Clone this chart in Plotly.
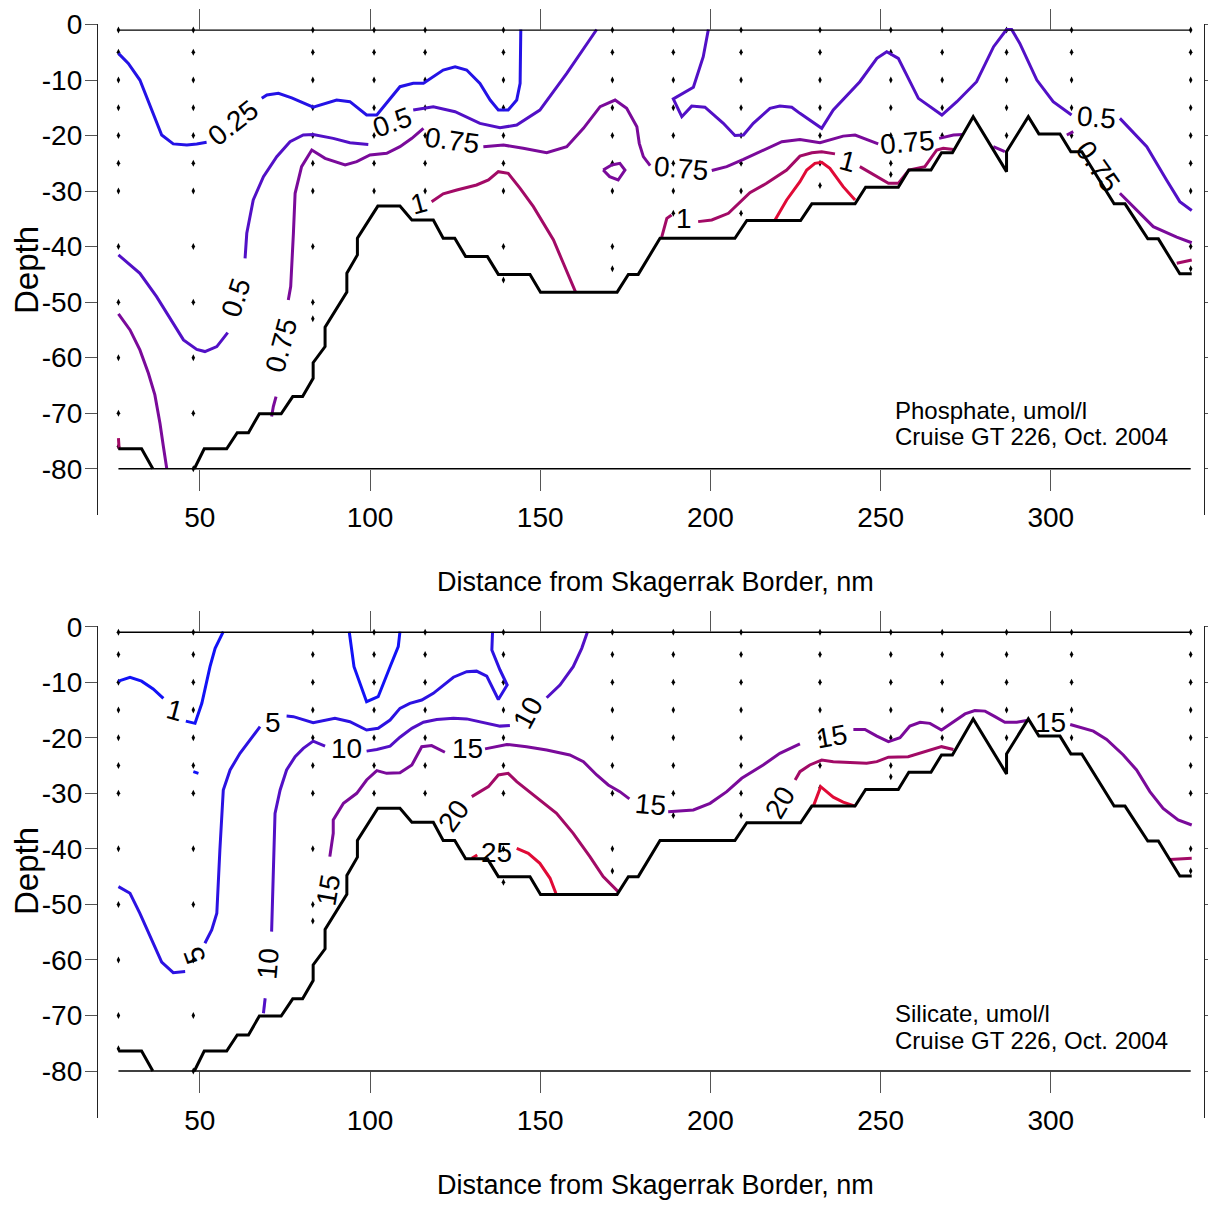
import plotly.graph_objects as go

W, H = 1216, 1207

# ---------------- data ----------------
station_dist = [26.1, 48.1, 83.2, 101.2, 116.2, 139.2, 171.2, 189.1, 209.0, 232.2, 253.0, 268.1, 287.0, 306.1, 341.1]
station_samples = [
    [1, 5, 10, 15, 20, 25, 30, 40, 50, 60, 70, 76],
    [1, 5, 10, 15, 20, 25, 30, 40, 50, 60, 70, 80],
    [1, 5, 10, 15, 20, 25, 30, 40, 50, 53],
    [1, 5, 10, 15, 20, 25, 30],
    [1, 5, 10, 15, 20, 25, 30],
    [1, 5, 10, 15, 20, 25, 30, 40, 46],
    [1, 5, 10, 15, 20, 25, 30, 40, 44],
    [1, 5, 10, 15, 20, 25, 30, 34],
    [1, 5, 10, 15, 20, 25, 30, 34],
    [1, 5, 10, 15, 20, 25, 29],
    [1, 5, 10, 15, 20, 25, 27],
    [1, 5, 10, 15, 20],
    [1, 5, 10, 15, 20],
    [1, 5, 10, 15, 20],
    [1, 5, 10, 15, 20, 25, 30, 40, 44],
]
grid_top_depth = -1
grid_bottom_depth = -80

bottom_dist = [26.1, 32.9, 36.2, None, 48.4, 51.3, 57.9, 61.0, 64.3, 67.5, 73.9, 77.3, 80.2, 83.3, 83.3,
               86.8, 86.8, 93.2, 93.2, 96.3, 96.3, 102.3, 108.8, 112.3, 118.6, 121.5, 124.9, 128.1, 134.5,
               137.7, 147.0, 150.1, 172.6, 175.9, 178.8, 185.2, 207.2, 210.7, 226.5, 229.8, 242.5, 245.6,
               255.2, 258.3, 264.8, 267.9, 271.1, 277.2, 287.0, 287.0, 293.4, 296.5, 302.7, 305.9, 309.1,
               318.6, 321.8, 328.5, 331.6, 337.9, 341.4]
bottom_depth = [-76.4, -76.4, -80.0, None, -80.0, -76.4, -76.4, -73.5, -73.5, -70.1, -70.1, -67.0, -67.0, -63.7, -60.9,
                -58.0, -54.5, -48.2, -44.8, -41.5, -38.5, -32.7, -32.7, -35.2, -35.2, -38.5, -38.5, -41.8, -41.8,
                -45.0, -45.0, -48.2, -48.2, -45.0, -45.0, -38.5, -38.5, -35.3, -35.3, -32.3, -32.3, -29.3,
                -29.3, -26.2, -26.2, -23.1, -23.1, -16.6, -26.5, -22.9, -16.6, -19.7, -19.7, -22.9, -22.9,
                -32.3, -32.3, -38.6, -38.6, -44.9, -44.9]

# Phosphate isolines (umol/l)
p025_x = [26.1, 29.0, 32.4, 35.9, 38.8, 42.2, 46.2, 49.1, 52.0, None, 68.2, 69.7, 73.1, 77.0, 83.3, 86.8, 90.2, 94.1,
          99.0, 102.0, 108.8, 112.7, 115.7, 121.5, 125.0, 128.4, 132.3, 135.3, 137.7, 140.6, 143.1, 144.1, 144.3]
p025_y = [-5.2, -7.0, -10.0, -15.4, -19.9, -21.5, -21.7, -21.5, -21.2, None, -13.3, -12.7, -12.4, -13.2, -14.9, -14.2,
          -13.6, -13.9, -16.3, -16.3, -11.2, -10.6, -10.6, -8.2, -7.6, -8.2, -10.6, -13.6, -15.4, -15.4, -13.6, -10.6, -0.9]

p05_x = [26.1, 32.4, 37.3, 41.2, 45.2, 49.1, 51.5, 55.0, 58.2, None, 63.3, 63.8, 65.7, 68.7, 72.6, 76.5, 80.4, 83.3,
         89.2, 94.1, 99.5, None, 112.7, 118.6, 125.0, 132.3, 138.2, 143.1, 149.9, 157.8, 166.6, None,
         199.4, 197.9, 195.0, 189.1, 191.6, 194.5, 198.4, 203.8, 207.2, 209.7, 212.6, 217.5, 220.4, 223.9, 226.3,
         232.7, 236.1, 243.9, 248.9, 251.8, 255.2, 261.1, 268.0, 272.4, 278.2, 283.2, 287.0, 288.5, 290.9, 295.9,
         300.7, 306.1, None, 320.3, 328.2, 334.0, 337.9, 341.4]
p05_y = [-41.5, -44.8, -49.0, -52.9, -56.8, -58.5, -58.9, -58.0, -55.5, None, -42.1, -37.6, -31.6, -27.4, -23.8, -21.1,
         -19.9, -19.8, -20.5, -21.3, -21.6, None, -15.4, -14.8, -15.7, -17.8, -18.6, -18.1, -15.4, -8.8, -0.9, None,
         -0.9, -5.8, -11.3, -13.4, -16.6, -14.7, -14.9, -17.8, -20.0, -19.9, -17.8, -15.1, -14.7, -14.9, -16.0,
         -18.7, -15.4, -10.3, -6.1, -4.9, -6.1, -13.3, -16.3, -13.9, -10.3, -4.0, -0.9, -0.9, -3.4, -10.0,
         -13.9, -16.3, None, -16.9, -22.0, -28.0, -31.9, -33.5]

p075_x = [26.1, 29.5, 32.4, 34.9, 36.8, 38.3, 39.3, 40.3, None, 71.1, 71.6, 72.4, None, 76.0, 76.7, 77.5, 78.0, 79.9,
          82.9, 86.8, 92.7, 96.1, 100.0, 104.9, 108.8, 112.3, 115.7, None, 133.3, 139.2, 145.0, 151.9, 157.8, 162.7,
          167.6, 172.0, 175.4, 178.4, 179.1, 180.3, 182.3, None, 200.4, 204.8, 209.7, 215.5, 221.0, 226.3, 232.2,
          239.0, 242.5, 249.3, None, 267.2, 271.4, 274.3, None, 283.1, 286.5, None, 304.7, 306.6, None,
          320.3, 324.2, 330.1, 337.0, 341.4, None, 168.5, 171.0, 173.4, 174.9, 172.9, 170.4, 168.5]
p075_y = [-52.1, -55.0, -58.6, -62.8, -66.7, -71.8, -76.0, -80.0, None, -70.6, -68.8, -67.0, None, -49.6, -47.2, -37.6,
          -30.4, -25.6, -22.6, -24.1, -25.3, -24.7, -23.5, -23.2, -22.0, -20.5, -18.7, None, -22.0, -21.7, -22.3,
          -23.1, -22.0, -18.7, -14.8, -13.6, -15.1, -18.4, -21.4, -23.8, -25.4, None, -26.3, -25.6, -24.3, -22.6,
          -21.1, -20.7, -21.3, -20.1, -19.9, -21.5, None, -20.5, -19.9, -19.8, None, -22.0, -22.9, None, -19.9,
          -19.3, None, -30.4, -32.8, -36.4, -38.3, -39.3, None, -26.2, -25.3, -25.0, -26.2, -28.0, -27.4, -26.2]

p1_x = [26.1, 26.3, None, 118.1, 121.5, 125.5, 131.3, 134.8, 137.7, 140.6, 144.1, 148.0, 150.9, 153.9, 156.8, 160.4,
        None, 185.7, 187.2, 188.6, None, 196.4, 200.4, 205.3, 211.6, 216.5, 222.4, 226.3, 229.8, 232.7, 236.6, None,
        243.9, 248.9, 252.3, 255.2, 258.3, 263.0, 266.5, 268.4, 271.4, None, 337.0, 341.4]
p1_y = [-74.5, -76.4, None, -31.9, -30.5, -29.8, -28.9, -28.0, -26.5, -26.8, -29.5, -32.8, -35.8, -38.8, -43.0, -48.2,
        None, -38.3, -34.9, -34.3, None, -35.5, -35.2, -34.0, -30.3, -28.6, -26.2, -23.7, -23.1, -22.9, -23.3, None,
        -25.6, -27.4, -28.6, -28.6, -26.2, -25.6, -22.6, -22.3, -22.5, None, -43.0, -42.4]

p125_x = [218.9, 222.4, 226.3, 228.3, 230.7, 232.7, 235.1, 239.0, 242.5]
p125_y = [-35.3, -31.6, -28.3, -26.2, -25.0, -24.8, -25.9, -29.2, -31.6]

# Silicate isolines (umol/l)
s1_x = [26.1, 29.5, 32.9, 36.3, 39.3, None, 45.9, 48.6, 50.6, 53.0, 54.5, 56.9, None, 48.1, 49.6, None,
        93.9, 95.3, 99.0, 102.4, 105.9, 108.3, 108.8]
s1_y = [-9.8, -9.1, -9.8, -11.2, -12.9, None, -17.0, -17.4, -13.8, -7.2, -3.9, -0.9, None, -26.1, -26.4, None,
        -0.9, -7.2, -13.5, -12.6, -7.2, -3.6, -0.9]

s5_x = [26.1, 29.5, 32.4, 35.9, 38.8, 42.2, 45.7, None, 51.5, 53.5, 55.0, 55.4, 55.9, 56.9, 58.9, 61.8, 67.7, None,
        75.5, 77.5, 83.3, 89.7, 94.1, 99.0, 102.4, 105.9, 108.8, 111.7, 115.2, 118.6, 124.5, 128.4, 131.3, 134.3,
        137.7, 140.3, 138.2, 135.8, 136.0]
s5_y = [-46.8, -48.0, -51.6, -56.4, -60.4, -62.3, -62.1, None, -57.0, -54.6, -51.6, -46.2, -40.2, -29.4, -25.8, -22.8,
        -18.0, None, -16.1, -16.2, -17.3, -16.5, -17.1, -18.6, -18.3, -16.8, -14.7, -13.8, -13.2, -12.0, -9.1, -8.1,
        -8.0, -8.9, -13.1, -10.5, -7.8, -4.2, -0.9]

s10_x = [68.7, 69.2, None, 71.1, 71.4, 71.8, 72.1, 73.6, 75.5, 78.0, 80.4, 83.3, 86.8, None, 99.0, 102.0, 105.9,
         108.8, 112.3, 115.7, 119.6, 124.5, 128.4, 133.3, 138.2, 141.1, None, 151.9, 155.8, 159.7, 162.2, 163.9]
s10_y = [-69.6, -66.9, None, -54.9, -49.2, -40.2, -33.6, -29.4, -25.8, -23.4, -21.9, -20.6, -21.5, None, -22.4, -22.1,
         -21.5, -19.9, -18.3, -17.2, -16.7, -16.5, -16.6, -17.2, -17.9, -17.8, None, -12.8, -10.5, -7.2, -3.9, -0.9]

s15_x = [88.2, 89.2, 89.2, 92.2, 96.1, 99.0, 102.0, 104.9, 108.8, 112.3, 115.2, 118.1, 122.0, None, 133.8, 140.2,
         146.0, 151.9, 158.7, 162.7, 166.6, 170.0, 173.4, 176.2, None, 187.6, 195.0, 199.9, 204.8, 209.2, 215.5,
         220.4, 226.3, None, 242.0, 245.4, 248.9, 252.3, 255.7, 258.6, 261.6, 264.5, 267.9, 271.4, 274.8, 277.7,
         280.7, 283.6, 286.5, 290.0, 292.9, None, 305.7, 312.5, 316.4, 321.3, 325.2, 329.1, 333.0, 337.4, 341.4]
s15_y = [-41.4, -37.2, -34.8, -31.8, -30.0, -27.6, -25.9, -26.4, -26.3, -24.9, -21.6, -21.4, -22.6, None, -22.0, -21.2,
         -21.6, -22.2, -23.1, -24.3, -26.7, -28.5, -29.7, -31.0, None, -33.3, -33.0, -31.8, -29.7, -27.3, -24.9,
         -22.8, -21.1, None, -18.5, -18.5, -19.7, -20.7, -20.0, -17.9, -17.2, -17.4, -18.6, -17.1, -15.7, -15.1,
         -15.2, -16.2, -17.2, -17.2, -16.9, None, -17.6, -18.8, -20.3, -23.1, -25.8, -29.7, -32.7, -34.8, -35.7]

s20_x = [129.9, 134.8, 137.7, 140.6, 143.1, 149.9, 154.8, 159.7, 164.6, 168.5, 172.9, None, 224.9, 226.3, 229.2,
         232.7, 236.1, 245.9, 248.9, 252.3, 258.1, 261.6, 265.0, 267.9, 271.4, None, 335.0, 341.4]
s20_y = [-30.6, -28.8, -26.7, -26.4, -27.9, -31.2, -33.6, -37.2, -41.4, -45.0, -47.7, None, -27.6, -26.1, -24.9,
         -24.0, -24.3, -24.6, -24.3, -23.5, -23.4, -22.8, -22.1, -21.6, -22.1, None, -41.9, -41.7]

s25_x = [129.9, 131.5, None, 143.1, 146.5, 149.9, 152.9, 154.6, None, 230.2, 232.4, 236.1, 239.0, 242.5]
s25_y = [-41.7, -41.1, None, -39.9, -40.8, -42.6, -45.3, -48.0, None, -32.4, -28.8, -30.7, -31.6, -32.3]

# contour labels: (text, distance, depth, angle)
phos_labels = [("0.25", 60.0, -17.7, -38), ("0.5", 60.6, -49.1, -72), ("0.5", 106.5, -17.7, -20),
               ("0.75", 74.1, -57.7, -75), ("0.75", 124.1, -20.8, 8), ("0.75", 191.4, -26.0, 5),
               ("0.75", 257.8, -21.2, -5), ("0.5", 313.3, -16.7, 5), ("0.75", 313.9, -25.5, 55),
               ("1", 114.4, -32.3, -15), ("1", 192.3, -35.0, 0), ("1", 240.4, -24.6, 15)]
sil_labels = [("1", 42.7, -15.0, 15), ("5", 71.5, -17.2, 0), ("5", 48.6, -59.1, -110), ("10", 93.2, -21.9, 0),
              ("10", 146.4, -15.4, -62), ("10", 70.0, -60.6, -85), ("15", 128.5, -22.0, 0), ("15", 182.3, -32.0, 5),
              ("15", 235.7, -19.7, -10), ("15", 299.8, -17.2, 0), ("15", 87.9, -47.4, -80),
              ("20", 124.4, -34.1, -55), ("20", 220.4, -31.6, -60), ("25", 137.3, -40.6, 0)]

x_ticks = [50, 100, 150, 200, 250, 300]
y_ticks = [0, -10, -20, -30, -40, -50, -60, -70, -80]
y_ticktext = ["0", "-10", "-20", "-30", "-40", "-50", "-60", "-70", "-80"]

# ---------------- styling / layout ----------------
FONT = "Liberation Sans, Arial, Helvetica, sans-serif"
OFF = 8  # page body margin in the browser
X0, XS = 29.6, 3.404
XRANGE = [(98 - X0) / XS, (1204 - X0) / XS]


def pxx(px):
    return (px - OFF) / W


def pxy(py):
    return 1 - (py - OFF) / H


phos_series = [(p025_x, p025_y, "#2412e6"), (p05_x, p05_y, "#5210c6"), (p075_x, p075_y, "#7a0a9a"),
               (p1_x, p1_y, "#a20a66"), (p125_x, p125_y, "#e00a36")]
sil_series = [(s1_x, s1_y, "#1212f6"), (s5_x, s5_y, "#2c12e2"), (s10_x, s10_y, "#5210c6"),
              (s15_x, s15_y, "#7a0a9a"), (s20_x, s20_y, "#a20a66"), (s25_x, s25_y, "#e00a36")]

panels = [
    dict(xa="x", xt="x2", ya="y", yr="y2", y0=24.5, ys=5.553, top=24, bot=515, series=phos_series,
         labels=phos_labels, title1="Phosphate, umol/l", tpy=410, xtitle_y=582, depth_y=270),
    dict(xa="x3", xt="x4", ya="y3", yr="y4", y0=626.7, ys=5.554, top=626, bot=1118, series=sil_series,
         labels=sil_labels, title1="Silicate, umol/l", tpy=1013, xtitle_y=1185, depth_y=871),
]

fig = go.Figure()
layout = dict(width=W, height=H, margin=dict(l=0, r=0, t=0, b=0, pad=0), showlegend=False, template="none",
              plot_bgcolor="white", paper_bgcolor="white", annotations=[])


def lname(a):
    return "xaxis" + a[1:] if a.startswith("x") else "yaxis" + a[1:]


for p in panels:
    xa, xt, ya, yr = p["xa"], p["xt"], p["ya"], p["yr"]
    y0, ys = p["y0"], p["ys"]
    yrange = [-(p["bot"] - y0) / ys, (y0 - p["top"]) / ys]
    ydom = [pxy(p["bot"]), pxy(p["top"])]
    pos_bottom = pxy(y0 - grid_bottom_depth * ys)
    pos_top = pxy(y0 - grid_top_depth * ys)

    dx, dy = [], []
    for d, samples in zip(station_dist, station_samples):
        for s in samples:
            dx.append(d)
            dy.append(-s)
    fig.add_trace(go.Scatter(x=dx, y=dy, mode="markers", xaxis=xa, yaxis=ya,
                             marker=dict(symbol="diamond-tall", size=5, color="black"), hoverinfo="skip"))
    for sx, sy, col in p["series"]:
        fig.add_trace(go.Scatter(x=sx, y=sy, mode="lines", xaxis=xa, yaxis=ya, connectgaps=False,
                                 line=dict(color=col, width=3), hoverinfo="skip"))
    fig.add_trace(go.Scatter(x=bottom_dist, y=bottom_depth, mode="lines", xaxis=xa, yaxis=ya,
                             connectgaps=False, line=dict(color="black", width=3), hoverinfo="skip"))
    for depth in (grid_top_depth, grid_bottom_depth):
        fig.add_trace(go.Scatter(x=[station_dist[0], station_dist[-1]], y=[depth, depth], mode="lines",
                                 xaxis=xa, yaxis=ya, line=dict(color="black", width=1.3), hoverinfo="skip"))
    fig.add_trace(go.Scatter(x=[None], y=[None], xaxis=xt, yaxis=yr, hoverinfo="skip"))

    tickfont = dict(family=FONT, size=28, color="black")
    common = dict(showgrid=False, zeroline=False, automargin=False, tickcolor="#555", tickwidth=1.2,
                  ticklabeloverflow="allow")
    layout[lname(xa)] = dict(domain=[pxx(98), pxx(1204)], range=XRANGE, anchor="free", position=pos_bottom,
                             tickvals=x_ticks, ticks="outside", ticklen=21, showline=False, tickfont=tickfont,
                             ticklabelstandoff=3, **common)
    layout[lname(xt)] = dict(range=XRANGE, overlaying=xa, side="top", anchor="free", position=pos_top,
                             tickvals=x_ticks, ticks="outside", ticklen=21, showline=False,
                             showticklabels=False, **common)
    layout[lname(ya)] = dict(domain=ydom, range=yrange, anchor=xa, side="left", tickvals=y_ticks,
                             ticktext=y_ticktext, ticks="outside", ticklen=12, showline=True, linecolor="#222",
                             linewidth=1.3, tickfont=tickfont, ticklabelstandoff=-3, **common)
    layout[lname(yr)] = dict(range=yrange, overlaying=ya, side="right", anchor=xa, tickvals=y_ticks,
                             ticks="outside", ticklen=12, showline=True, linecolor="#222", linewidth=1.3,
                             showticklabels=False, **common)

    for text, d, z, ang in p["labels"]:
        layout["annotations"].append(dict(text=text, x=d, y=z, xref=xa, yref=ya, showarrow=False,
                                          textangle=ang, xanchor="center", yanchor="middle",
                                          font=dict(family=FONT, size=28, color="black")))
    layout["annotations"].append(dict(text=p["title1"], x=pxx(893), y=pxy(p["tpy"]), xref="paper",
                                      yref="paper", xanchor="left", yanchor="middle", showarrow=False,
                                      font=dict(family=FONT, size=24, color="black")))
    layout["annotations"].append(dict(text="Cruise GT 226, Oct. 2004", x=pxx(893), y=pxy(p["tpy"] + 27),
                                      xref="paper", yref="paper", xanchor="left", yanchor="middle",
                                      showarrow=False, font=dict(family=FONT, size=24, color="black")))
    layout["annotations"].append(dict(text="Distance from Skagerrak Border, nm", x=pxx(655),
                                      y=pxy(p["xtitle_y"]), xref="paper", yref="paper", xanchor="center",
                                      yanchor="middle", showarrow=False,
                                      font=dict(family=FONT, size=27, color="black")))
    layout["annotations"].append(dict(text="Depth", x=pxx(26), y=pxy(p["depth_y"]), xref="paper",
                                      yref="paper", xanchor="center", yanchor="middle", textangle=-90,
                                      showarrow=False, font=dict(family=FONT, size=33, color="black")))

fig.update_layout(**layout)
fig.write_html("out.html")
